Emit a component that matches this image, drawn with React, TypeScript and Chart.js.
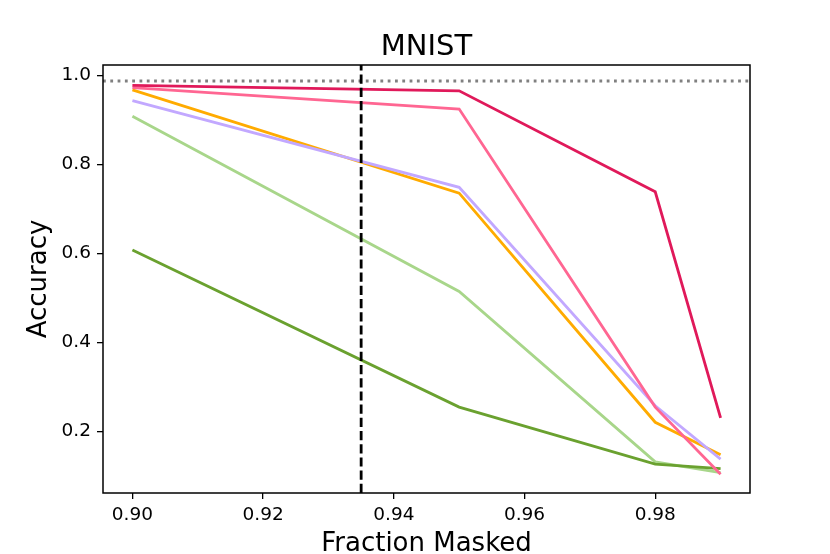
import React, { useEffect, useRef } from "react";
import { Chart, registerables } from "chart.js";

Chart.register(...registerables);

const fractions = [0.9, 0.95, 0.98, 0.99];
const seriesNames = ["A", "B", "C", "D", "E", "F"];
const crimsonValues = [0.978, 0.966, 0.739, 0.231];
const pinkValues = [0.973, 0.925, 0.255, 0.104];
const lavenderValues = [0.944, 0.749, 0.258, 0.138];
const orangeValues = [0.968, 0.736, 0.221, 0.148];
const darkGreenValues = [0.608, 0.255, 0.127, 0.117];
const lightGreenValues = [0.909, 0.515, 0.132, 0.108];
const xTicks = [0.9, 0.92, 0.94, 0.96, 0.98];
const yTicks = [0.2, 0.4, 0.6, 0.8, 1.0];
const baselineAccuracy = 0.988;
const chosenFraction = 0.935;
const chartTitle = "MNIST";
const xLabel = "Fraction Masked";
const yLabel = "Accuracy";

const FONT = "'DejaVu Sans', sans-serif";

const framePlugin = {
  id: "frameAndText",
  afterDatasetsDraw(chart: any) {
    const { ctx, chartArea, scales } = chart;
    const { left, right, top, bottom } = chartArea;
    ctx.save();
    ctx.beginPath();
    ctx.rect(left, top, right - left, bottom - top);
    ctx.clip();
    const yb = scales.y.getPixelForValue(baselineAccuracy);
    ctx.strokeStyle = "#808080";
    ctx.lineWidth = 2.8;
    ctx.setLineDash([2.8, 4.5]);
    ctx.beginPath();
    ctx.moveTo(left, yb);
    ctx.lineTo(right, yb);
    ctx.stroke();
    const xv = scales.x.getPixelForValue(chosenFraction);
    ctx.strokeStyle = "#000";
    ctx.lineWidth = 2.8;
    ctx.setLineDash([9.2, 4]);
    ctx.beginPath();
    ctx.moveTo(xv, bottom);
    ctx.lineTo(xv, top);
    ctx.stroke();
    ctx.restore();

    ctx.save();
    ctx.setLineDash([]);
    ctx.strokeStyle = "#000";
    ctx.lineWidth = 1.5;
    ctx.strokeRect(left, top, right - left, bottom - top);

    ctx.fillStyle = "#000";
    ctx.textAlign = "center";
    ctx.textBaseline = "alphabetic";
    ctx.font = `29px ${FONT}`;
    ctx.fillText(chartTitle, (left + right) / 2, 55);
    ctx.font = `26px ${FONT}`;
    ctx.fillText(xLabel, (left + right) / 2, 551);
    ctx.translate(46, (top + bottom) / 2);
    ctx.rotate(-Math.PI / 2);
    ctx.fillText(yLabel, 0, 0);
    ctx.restore();
  },
};

export default function App() {
  const ref = useRef<HTMLCanvasElement | null>(null);
  useEffect(() => {
    if (!ref.current) return;
    const mk = (label: string, data: number[], color: string) => ({
      label,
      data: fractions.map((x, i) => ({ x, y: data[i] })),
      borderColor: color,
      backgroundColor: color,
      borderWidth: 2.8,
      pointRadius: 0,
      tension: 0,
      fill: false,
    });
    const chart = new Chart(ref.current, {
      type: "line",
      data: {
        datasets: [
          mk(seriesNames[0], crimsonValues, "#e0195a"),
          mk(seriesNames[1], pinkValues, "#ff6692"),
          mk(seriesNames[2], lavenderValues, "#c2a8ff"),
          mk(seriesNames[3], orangeValues, "#ffab00"),
          mk(seriesNames[4], darkGreenValues, "#6aa12f"),
          mk(seriesNames[5], lightGreenValues, "#a8d68a"),
        ],
      },
      options: {
        animation: false,
        responsive: false,
        devicePixelRatio: 1,
        layout: { padding: { left: 0, top: 65, right: 80, bottom: 0 } },
        plugins: {
          legend: { display: false },
          tooltip: { enabled: false },
          title: { display: false },
        },
        scales: {
          x: {
            type: "linear",
            min: 0.8955,
            max: 0.9945,
            afterBuildTicks: (s: any) => {
              s.ticks = xTicks.map((v) => ({ value: v }));
            },
            afterFit: (s: any) => {
              s.height = 61;
            },
            ticks: {
              color: "#000",
              font: { family: FONT, size: 18.5 },
              padding: 5,
              maxRotation: 0,
              autoSkip: false,
              callback: (v: any) => Number(v).toFixed(2),
            },
            grid: {
              drawOnChartArea: false,
              drawTicks: true,
              tickLength: 6,
              color: "#000",
              lineWidth: 1.3,
            },
            border: { display: false },
          },
          y: {
            type: "linear",
            min: 0.062,
            max: 1.024,
            afterBuildTicks: (s: any) => {
              s.ticks = yTicks.map((v) => ({ value: v }));
            },
            afterFit: (s: any) => {
              s.width = 103;
            },
            ticks: {
              color: "#000",
              font: { family: FONT, size: 18.5 },
              padding: 6,
              autoSkip: false,
              callback: (v: any) => Number(v).toFixed(1),
            },
            grid: {
              drawOnChartArea: false,
              drawTicks: true,
              tickLength: 6,
              color: "#000",
              lineWidth: 1.3,
            },
            border: { display: false },
          },
        },
      },
      plugins: [framePlugin],
    } as any);
    return () => chart.destroy();
  }, []);
  return (
    <div style={{ position: "fixed", left: 0, top: 0, width: 830, height: 554, background: "#fff" }}>
      <canvas ref={ref} width={830} height={554} style={{ display: "block" }} />
    </div>
  );
}
